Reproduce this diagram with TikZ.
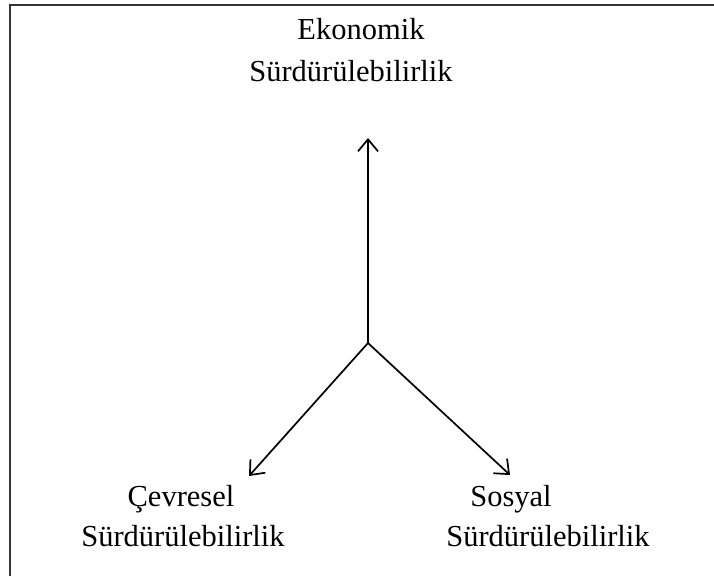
\documentclass[tikz,border=0pt]{standalone}
\usepackage{fontspec}
\setmainfont{Liberation Serif}
\usetikzlibrary{arrows.meta}

\tikzset{
  lbl/.style={anchor=base,inner sep=0pt,font=\fontsize{30.5}{36}\selectfont},
  arr/.style={-{Straight Barb[length=12pt,width=20pt]},line width=1.7pt},
}

\begin{document}
\begin{tikzpicture}[x=1pt,y=-1pt]

  \useasboundingbox (0,0) rectangle (714,576);

  % frame (only left and top edges are in view)
  \coordinate (fbot) at (10,576);
  \coordinate (fcorner) at (10,5);
  \coordinate (fright) at (714,5);
  \draw[line width=2.8pt,black!80] (fbot) -- (fcorner) -- (fright);

  \coordinate (mid) at (368,343);
  \coordinate (eko) at (368,138);
  \coordinate (cev) at (249,476);
  \coordinate (sos) at (510,475);

  \node (ekotop) at (361,39) [lbl]{Ekonomik};
  \node (ekobot) at (351,81) [lbl]{Sürdürülebilirlik};
  \node (cevtop) at (181,506) [lbl]{Çevresel};
  \node (cevbot) at (183,546) [lbl]{Sürdürülebilirlik};
  \node (sostop) at (511,506) [lbl]{Sosyal};
  \node (sosbot) at (548,546) [lbl]{Sürdürülebilirlik};

  \draw[arr] (mid) -- (eko);
  \draw[arr] (mid) -- (cev);
  \draw[arr] (mid) -- (sos);

\end{tikzpicture}
\end{document}
